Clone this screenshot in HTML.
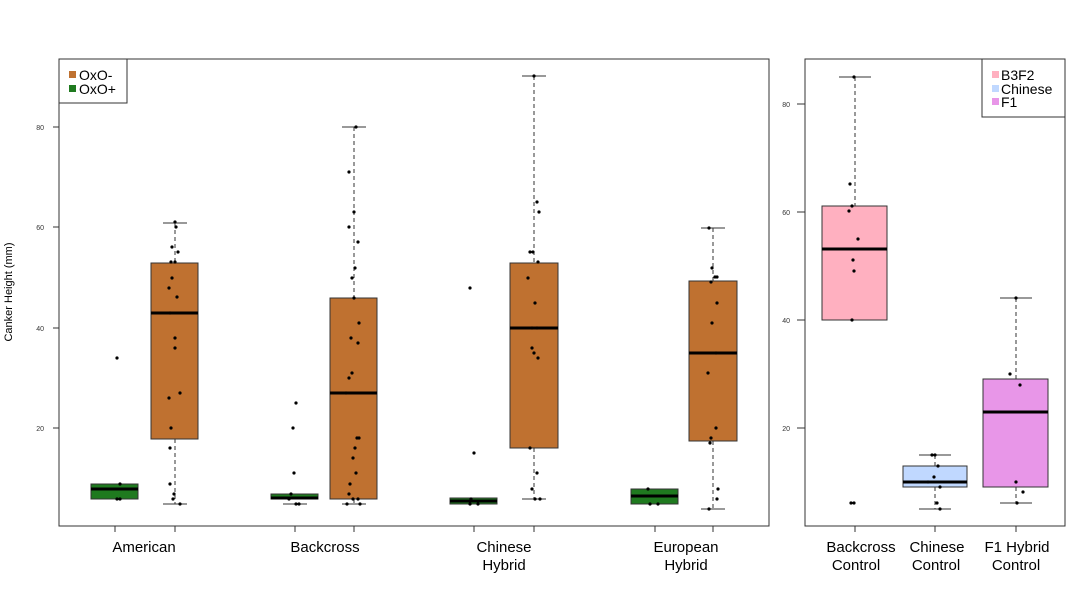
<!DOCTYPE html>
<html><head><meta charset="utf-8"><style>
html,body{margin:0;padding:0;background:#fff;}
svg{display:block;font-family:"Liberation Sans",sans-serif;}
</style></head><body>
<svg width="1086" height="597" viewBox="0 0 1086 597" xmlns="http://www.w3.org/2000/svg">
<rect width="1086" height="597" fill="#fff"/>
<!-- LEFT PANEL -->
<rect x="59" y="59" width="710" height="467" fill="none" stroke="#333" stroke-width="1"/>
<g stroke="#333" stroke-width="1">
<line x1="53" y1="127" x2="59" y2="127"/><line x1="53" y1="227" x2="59" y2="227"/>
<line x1="53" y1="328" x2="59" y2="328"/><line x1="53" y1="428" x2="59" y2="428"/>
<line x1="115" y1="526" x2="115" y2="532"/><line x1="175" y1="526" x2="175" y2="532"/>
<line x1="295" y1="526" x2="295" y2="532"/><line x1="354" y1="526" x2="354" y2="532"/>
<line x1="474" y1="526" x2="474" y2="532"/><line x1="534" y1="526" x2="534" y2="532"/>
<line x1="655" y1="526" x2="655" y2="532"/><line x1="713" y1="526" x2="713" y2="532"/>
</g>
<g font-size="7" fill="#333" text-anchor="end">
<text x="44" y="130">80</text><text x="44" y="230">60</text><text x="44" y="331">40</text><text x="44" y="431">20</text>
</g>
<text transform="translate(12,292) rotate(-90)" font-size="11" text-anchor="middle" fill="#000">Canker Height (mm)</text>
<g font-size="15" fill="#000" text-anchor="middle">
<text x="144" y="552">American</text>
<text x="325" y="552">Backcross</text>
<text x="504" y="552">Chinese</text><text x="504" y="570">Hybrid</text>
<text x="686" y="552">European</text><text x="686" y="570">Hybrid</text>
</g>
<!-- whiskers -->
<g stroke="#333" stroke-width="1" stroke-dasharray="4,3">
<line x1="175" y1="223" x2="175" y2="263"/><line x1="175" y1="439" x2="175" y2="504"/>
<line x1="354" y1="127" x2="354" y2="298"/><line x1="354" y1="499" x2="354" y2="504"/>
<line x1="534" y1="76" x2="534" y2="263"/><line x1="534" y1="448" x2="534" y2="499"/>
<line x1="713" y1="228" x2="713" y2="281"/><line x1="713" y1="441" x2="713" y2="509"/>
</g>
<g stroke="#333" stroke-width="1">
<line x1="163" y1="223" x2="187" y2="223"/><line x1="163" y1="504" x2="187" y2="504"/>
<line x1="342" y1="127" x2="366" y2="127"/><line x1="342" y1="504" x2="366" y2="504"/>
<line x1="522" y1="76" x2="546" y2="76"/><line x1="522" y1="499" x2="546" y2="499"/>
<line x1="701" y1="228" x2="725" y2="228"/><line x1="701" y1="509" x2="725" y2="509"/>
<line x1="103" y1="484" x2="127" y2="484"/><line x1="103" y1="499" x2="127" y2="499"/>
<line x1="283" y1="504" x2="307" y2="504"/><line x1="283" y1="494" x2="307" y2="494"/>
<line x1="462" y1="504" x2="486" y2="504"/><line x1="462" y1="499" x2="486" y2="499"/>
<line x1="643" y1="504" x2="667" y2="504"/><line x1="643" y1="489" x2="667" y2="489"/>
</g>
<!-- boxes -->
<g stroke="#333" stroke-width="1">
<rect x="91" y="484" width="47" height="15" fill="#1f7a1f"/>
<rect x="151" y="263" width="47" height="176" fill="#bf7130"/>
<rect x="271" y="494" width="47" height="5" fill="#1f7a1f"/>
<rect x="330" y="298" width="47" height="201" fill="#bf7130"/>
<rect x="450" y="498" width="47" height="6" fill="#1f7a1f"/>
<rect x="510" y="263" width="48" height="185" fill="#bf7130"/>
<rect x="631" y="489" width="47" height="15" fill="#1f7a1f"/>
<rect x="689" y="281" width="48" height="160" fill="#bf7130"/>
</g>
<g stroke="#000" stroke-width="3">
<line x1="91" y1="489" x2="138" y2="489"/><line x1="151" y1="313" x2="198" y2="313"/>
<line x1="271" y1="498" x2="318" y2="498"/><line x1="330" y1="393" x2="377" y2="393"/>
<line x1="450" y1="501" x2="497" y2="501"/><line x1="510" y1="328" x2="558" y2="328"/>
<line x1="631" y1="496" x2="678" y2="496"/><line x1="689" y1="353" x2="737" y2="353"/>
</g>
<!-- points -->
<g fill="#000">
<circle cx="117" cy="358" r="1.6"/><circle cx="120" cy="484" r="1.6"/><circle cx="117" cy="499" r="1.6"/><circle cx="120" cy="499" r="1.6"/>
<circle cx="175" cy="222" r="1.6"/><circle cx="176" cy="227" r="1.6"/><circle cx="172" cy="247" r="1.6"/><circle cx="178" cy="252" r="1.6"/><circle cx="171" cy="262" r="1.6"/><circle cx="175" cy="262" r="1.6"/><circle cx="172" cy="278" r="1.6"/><circle cx="169" cy="288" r="1.6"/><circle cx="177" cy="297" r="1.6"/><circle cx="170" cy="313" r="1.6"/><circle cx="175" cy="338" r="1.6"/><circle cx="175" cy="348" r="1.6"/><circle cx="169" cy="398" r="1.6"/><circle cx="180" cy="393" r="1.6"/><circle cx="171" cy="428" r="1.6"/><circle cx="170" cy="448" r="1.6"/><circle cx="170" cy="484" r="1.6"/><circle cx="174" cy="494" r="1.6"/><circle cx="173" cy="499" r="1.6"/><circle cx="180" cy="504" r="1.6"/>
<circle cx="296" cy="403" r="1.6"/><circle cx="293" cy="428" r="1.6"/><circle cx="294" cy="473" r="1.6"/><circle cx="291" cy="494" r="1.6"/><circle cx="289" cy="499" r="1.6"/><circle cx="299" cy="504" r="1.6"/><circle cx="296" cy="504" r="1.6"/>
<circle cx="356" cy="127" r="1.6"/><circle cx="349" cy="172" r="1.6"/><circle cx="354" cy="212" r="1.6"/><circle cx="358" cy="242" r="1.6"/><circle cx="349" cy="227" r="1.6"/><circle cx="352" cy="278" r="1.6"/><circle cx="355" cy="268" r="1.6"/><circle cx="354" cy="298" r="1.6"/><circle cx="359" cy="323" r="1.6"/><circle cx="351" cy="338" r="1.6"/><circle cx="358" cy="343" r="1.6"/><circle cx="352" cy="373" r="1.6"/><circle cx="349" cy="378" r="1.6"/><circle cx="346" cy="393" r="1.6"/><circle cx="357" cy="438" r="1.6"/><circle cx="359" cy="438" r="1.6"/><circle cx="355" cy="448" r="1.6"/><circle cx="353" cy="458" r="1.6"/><circle cx="356" cy="473" r="1.6"/><circle cx="350" cy="484" r="1.6"/><circle cx="349" cy="494" r="1.6"/><circle cx="353" cy="499" r="1.6"/><circle cx="358" cy="499" r="1.6"/><circle cx="347" cy="504" r="1.6"/><circle cx="360" cy="504" r="1.6"/>
<circle cx="470" cy="288" r="1.6"/><circle cx="474" cy="453" r="1.6"/><circle cx="471" cy="499" r="1.6"/><circle cx="470" cy="504" r="1.6"/><circle cx="478" cy="504" r="1.6"/>
<circle cx="534" cy="76" r="1.6"/><circle cx="537" cy="202" r="1.6"/><circle cx="539" cy="212" r="1.6"/><circle cx="530" cy="252" r="1.6"/><circle cx="533" cy="252" r="1.6"/><circle cx="538" cy="262" r="1.6"/><circle cx="528" cy="278" r="1.6"/><circle cx="535" cy="303" r="1.6"/><circle cx="532" cy="328" r="1.6"/><circle cx="537" cy="328" r="1.6"/><circle cx="532" cy="348" r="1.6"/><circle cx="534" cy="353" r="1.6"/><circle cx="538" cy="358" r="1.6"/><circle cx="530" cy="448" r="1.6"/><circle cx="537" cy="473" r="1.6"/><circle cx="532" cy="489" r="1.6"/><circle cx="535" cy="499" r="1.6"/><circle cx="540" cy="499" r="1.6"/>
<circle cx="648" cy="489" r="1.6"/><circle cx="650" cy="504" r="1.6"/><circle cx="658" cy="504" r="1.6"/>
<circle cx="709" cy="228" r="1.6"/><circle cx="712" cy="268" r="1.6"/><circle cx="715" cy="277" r="1.6"/><circle cx="717" cy="277" r="1.6"/><circle cx="711" cy="282" r="1.6"/><circle cx="717" cy="303" r="1.6"/><circle cx="712" cy="323" r="1.6"/><circle cx="716" cy="353" r="1.6"/><circle cx="708" cy="373" r="1.6"/><circle cx="716" cy="428" r="1.6"/><circle cx="711" cy="438" r="1.6"/><circle cx="710" cy="443" r="1.6"/><circle cx="718" cy="489" r="1.6"/><circle cx="717" cy="499" r="1.6"/><circle cx="709" cy="509" r="1.6"/>
</g>
<!-- left legend -->
<rect x="59" y="59" width="68" height="44" fill="#fff" stroke="#333" stroke-width="1"/>
<rect x="69" y="71" width="7" height="7" fill="#bf7130"/>
<rect x="69" y="85" width="7" height="7" fill="#1f7a1f"/>
<text x="79" y="80" font-size="14" fill="#000">OxO-</text>
<text x="79" y="94" font-size="14" fill="#000">OxO+</text>

<!-- RIGHT PANEL -->
<rect x="805" y="59" width="260" height="467" fill="none" stroke="#333" stroke-width="1"/>
<g stroke="#333" stroke-width="1">
<line x1="797" y1="104" x2="805" y2="104"/><line x1="797" y1="212" x2="805" y2="212"/>
<line x1="797" y1="320" x2="805" y2="320"/><line x1="797" y1="428" x2="805" y2="428"/>
<line x1="855" y1="526" x2="855" y2="532"/><line x1="935" y1="526" x2="935" y2="532"/><line x1="1016" y1="526" x2="1016" y2="532"/>
</g>
<g font-size="7" fill="#333" text-anchor="end">
<text x="790" y="107">80</text><text x="790" y="215">60</text><text x="790" y="323">40</text><text x="790" y="431">20</text>
</g>
<g font-size="15" fill="#000" text-anchor="middle">
<text x="861" y="552">Backcross</text><text x="856" y="570">Control</text>
<text x="937" y="552">Chinese</text><text x="936" y="570">Control</text>
<text x="1017" y="552">F1 Hybrid</text><text x="1016" y="570">Control</text>
</g>
<g stroke="#333" stroke-width="1" stroke-dasharray="4,3">
<line x1="855" y1="77" x2="855" y2="212"/>
<line x1="935" y1="455" x2="935" y2="466"/><line x1="935" y1="487" x2="935" y2="509"/>
<line x1="1016" y1="298" x2="1016" y2="379"/><line x1="1016" y1="487" x2="1016" y2="503"/>
</g>
<g stroke="#333" stroke-width="1">
<line x1="839" y1="77" x2="871" y2="77"/><line x1="839" y1="320" x2="871" y2="320"/>
<line x1="919" y1="455" x2="951" y2="455"/><line x1="919" y1="509" x2="951" y2="509"/>
<line x1="1000" y1="298" x2="1032" y2="298"/><line x1="1000" y1="503" x2="1032" y2="503"/>
<rect x="822" y="206" width="65" height="114" fill="#ffb0c0"/>
<rect x="903" y="466" width="64" height="21" fill="#c0d8ff"/>
<rect x="983" y="379" width="65" height="108" fill="#e896e8"/>
</g>
<g stroke="#000" stroke-width="3">
<line x1="822" y1="249" x2="887" y2="249"/>
<line x1="903" y1="482" x2="967" y2="482"/>
<line x1="983" y1="412" x2="1048" y2="412"/>
</g>
<g fill="#000">
<circle cx="854" cy="77" r="1.6"/><circle cx="850" cy="184" r="1.6"/><circle cx="849" cy="211" r="1.6"/><circle cx="852" cy="206" r="1.6"/><circle cx="858" cy="239" r="1.6"/><circle cx="853" cy="260" r="1.6"/><circle cx="854" cy="271" r="1.6"/><circle cx="852" cy="320" r="1.6"/><circle cx="851" cy="503" r="1.6"/><circle cx="854" cy="503" r="1.6"/>
<circle cx="932" cy="455" r="1.6"/><circle cx="935" cy="455" r="1.6"/><circle cx="938" cy="466" r="1.6"/><circle cx="934" cy="477" r="1.6"/><circle cx="928" cy="482" r="1.6"/><circle cx="940" cy="487" r="1.6"/><circle cx="937" cy="503" r="1.6"/><circle cx="940" cy="509" r="1.6"/>
<circle cx="1010" cy="374" r="1.6"/><circle cx="1020" cy="385" r="1.6"/><circle cx="1016" cy="482" r="1.6"/><circle cx="1023" cy="492" r="1.6"/><circle cx="1017" cy="503" r="1.6"/><circle cx="1016" cy="298" r="1.6"/>
</g>
<rect x="982" y="59" width="83" height="58" fill="#fff" stroke="#333" stroke-width="1"/>
<rect x="992" y="71" width="7" height="7" fill="#ffb0c0"/>
<rect x="992" y="85" width="7" height="7" fill="#c0d8ff"/>
<rect x="992" y="98" width="7" height="7" fill="#e896e8"/>
<text x="1001" y="80" font-size="14" fill="#000">B3F2</text>
<text x="1001" y="94" font-size="14" fill="#000">Chinese</text>
<text x="1001" y="107" font-size="14" fill="#000">F1</text>
</svg>
</body></html>
